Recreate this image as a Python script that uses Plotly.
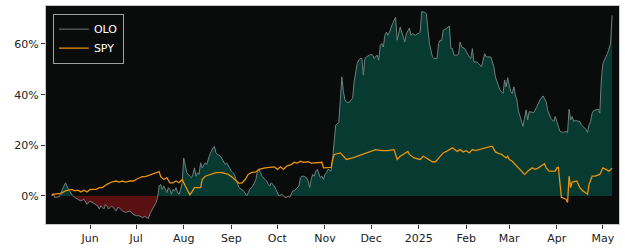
import numpy as np
import pandas as pd
import plotly.graph_objects as go

# ---------------- data (cumulative return, %) ----------------
olo_dates = [
    "2024-05-07", "2024-05-08", "2024-05-09", "2024-05-12", "2024-05-13", "2024-05-14", "2024-05-16",
    "2024-05-17", "2024-05-18", "2024-05-20", "2024-05-22", "2024-05-24", "2024-05-26", "2024-05-28",
    "2024-05-30", "2024-06-01", "2024-06-04", "2024-06-06", "2024-06-07", "2024-06-08", "2024-06-09",
    "2024-06-10", "2024-06-11", "2024-06-12", "2024-06-13", "2024-06-15", "2024-06-18", "2024-06-19",
    "2024-06-20", "2024-06-22", "2024-06-24", "2024-06-27", "2024-06-29", "2024-07-01", "2024-07-03",
    "2024-07-05", "2024-07-07", "2024-07-09", "2024-07-10", "2024-07-11", "2024-07-14", "2024-07-15",
    "2024-07-16", "2024-07-17", "2024-07-18", "2024-07-19", "2024-07-21", "2024-07-22", "2024-07-23",
    "2024-07-24", "2024-07-25", "2024-07-26", "2024-07-27", "2024-07-28", "2024-07-29", "2024-07-30",
    "2024-07-31", "2024-08-01", "2024-08-02", "2024-08-03", "2024-08-05", "2024-08-06", "2024-08-07",
    "2024-08-08", "2024-08-09", "2024-08-10", "2024-08-11", "2024-08-12", "2024-08-13", "2024-08-15",
    "2024-08-16", "2024-08-17", "2024-08-18", "2024-08-20", "2024-08-21", "2024-08-22", "2024-08-23",
    "2024-08-25", "2024-08-26", "2024-08-27", "2024-08-28", "2024-08-29", "2024-08-30", "2024-08-31",
    "2024-09-01", "2024-09-02", "2024-09-03", "2024-09-04", "2024-09-05", "2024-09-06", "2024-09-09",
    "2024-09-10", "2024-09-11", "2024-09-12", "2024-09-13", "2024-09-15", "2024-09-16", "2024-09-17",
    "2024-09-18", "2024-09-19", "2024-09-20", "2024-09-21", "2024-09-23", "2024-09-24", "2024-09-25",
    "2024-09-26", "2024-09-27", "2024-09-28", "2024-09-29", "2024-09-30", "2024-10-01", "2024-10-02",
    "2024-10-04", "2024-10-05", "2024-10-06", "2024-10-07", "2024-10-08", "2024-10-09", "2024-10-10",
    "2024-10-11", "2024-10-12", "2024-10-13", "2024-10-15", "2024-10-16", "2024-10-17", "2024-10-18",
    "2024-10-20", "2024-10-21", "2024-10-22", "2024-10-23", "2024-10-24", "2024-10-25", "2024-10-26",
    "2024-10-27", "2024-10-29", "2024-10-30", "2024-10-31", "2024-11-01", "2024-11-02", "2024-11-03",
    "2024-11-05", "2024-11-06", "2024-11-07", "2024-11-08", "2024-11-10", "2024-11-12", "2024-11-13",
    "2024-11-14", "2024-11-15", "2024-11-17", "2024-11-18", "2024-11-19", "2024-11-20", "2024-11-22",
    "2024-11-23", "2024-11-24", "2024-11-25", "2024-11-26", "2024-11-27", "2024-11-28", "2024-11-30",
    "2024-12-01", "2024-12-02", "2024-12-03", "2024-12-05", "2024-12-06", "2024-12-07", "2024-12-08",
    "2024-12-09", "2024-12-10", "2024-12-11", "2024-12-12", "2024-12-13", "2024-12-14", "2024-12-15",
    "2024-12-17", "2024-12-18", "2024-12-20", "2024-12-21", "2024-12-22", "2024-12-23", "2024-12-24",
    "2024-12-26", "2024-12-27", "2024-12-28", "2024-12-30", "2024-12-31", "2025-01-01", "2025-01-02",
    "2025-01-03", "2025-01-05", "2025-01-06", "2025-01-07", "2025-01-08", "2025-01-10", "2025-01-11",
    "2025-01-13", "2025-01-14", "2025-01-15", "2025-01-16", "2025-01-17", "2025-01-19", "2025-01-21",
    "2025-01-22", "2025-01-23", "2025-01-24", "2025-01-26", "2025-01-27", "2025-01-28", "2025-01-29",
    "2025-01-31", "2025-02-01", "2025-02-03", "2025-02-04", "2025-02-05", "2025-02-06", "2025-02-08",
    "2025-02-09", "2025-02-10", "2025-02-11", "2025-02-13", "2025-02-14", "2025-02-16", "2025-02-17",
    "2025-02-18", "2025-02-19", "2025-02-20", "2025-02-21", "2025-02-22", "2025-02-23", "2025-02-25",
    "2025-02-26", "2025-02-27", "2025-02-28", "2025-03-01", "2025-03-02", "2025-03-03", "2025-03-04",
    "2025-03-05", "2025-03-06", "2025-03-07", "2025-03-10", "2025-03-12", "2025-03-13", "2025-03-14",
    "2025-03-17", "2025-03-19", "2025-03-21", "2025-03-23", "2025-03-25", "2025-03-26", "2025-03-28",
    "2025-03-30", "2025-03-31", "2025-04-01", "2025-04-03", "2025-04-05", "2025-04-07", "2025-04-08",
    "2025-04-09", "2025-04-10", "2025-04-11", "2025-04-12", "2025-04-13", "2025-04-16", "2025-04-17",
    "2025-04-18", "2025-04-20", "2025-04-21", "2025-04-22", "2025-04-23", "2025-04-24", "2025-04-25",
    "2025-04-27", "2025-04-28", "2025-04-29", "2025-04-30", "2025-05-01", "2025-05-03", "2025-05-04",
    "2025-05-06", "2025-05-07",
]
olo_values = [
    0.0, 1.0, -0.6, -0.3, 1.3, 2.6, 5.2,
    3.9, 2.6, 0.7, -0.6, -1.3, -2.0, -1.3,
    -3.3, -2.0, -3.3, -3.9, -5.2, -3.9, -4.6,
    -5.2, -3.3, -3.9, -5.2, -3.9, -5.9, -4.6,
    -4.6, -5.9, -6.5, -5.9, -7.2, -7.8, -7.8,
    -8.5, -8.1, -8.9, -7.0, -5.9, -2.6, -0.6,
    3.9, 4.6, 2.6, 3.9, 1.3, 3.3, 2.6,
    0.7, 2.6, 2.0, 3.3, 1.3, 0.7, 2.6,
    5.2, 15.0, 11.8, 9.2, 7.8, 7.2, 8.5,
    11.1, 7.8, 9.2, 8.5, 13.1, 11.1, 13.1,
    12.4, 14.4, 16.4, 19.0, 19.6, 17.0, 16.4,
    15.7, 14.4, 13.1, 12.4, 13.1, 11.8, 11.1,
    9.8, 9.2, 8.5, 6.5, 4.6, 3.3, 2.0,
    0.7, 0.0, 1.3, 2.6, 3.9, 5.2, 6.5,
    9.8, 10.5, 9.2, 7.8, 6.5, 5.9, 4.6,
    3.9, 5.2, 4.6, 3.9, 2.6, 1.3, 0.0,
    0.7, 0.0, -0.6, -0.6, 0.0, -0.6, 0.7,
    2.0, 2.0, 2.6, 3.9, 7.2, 7.8, 7.8,
    7.2, 5.9, 3.3, 6.5, 8.5, 7.8, 9.8,
    10.5, 7.2, 7.8, 6.5, 8.5, 9.2, 10.5,
    9.8, 15.0, 23.0, 28.0, 29.0, 47.0, 41.2,
    37.9, 37.0, 37.0, 37.9, 38.6, 45.1, 52.3,
    53.6, 54.3, 54.3, 47.7, 54.3, 54.9, 55.6,
    55.9, 55.6, 54.3, 55.6, 53.6, 59.5, 60.2,
    58.8, 63.4, 64.7, 63.4, 64.7, 66.7, 68.0,
    70.6, 61.5, 66.7, 64.7, 62.8, 60.8, 64.1,
    66.3, 63.4, 64.1, 63.4, 64.1, 64.1, 64.7,
    72.8, 72.5, 72.0, 64.7, 60.2, 54.9, 54.3,
    54.3, 60.2, 61.5, 61.2, 65.4, 66.0, 67.1,
    58.2, 58.2, 55.6, 55.6, 55.9, 60.8, 58.8,
    58.2, 56.9, 54.9, 54.3, 58.2, 52.9, 52.9,
    52.3, 51.5, 51.0, 56.2, 54.9, 54.9, 54.9,
    52.9, 51.0, 47.0, 45.1, 43.8, 41.8, 40.5,
    45.8, 43.1, 46.7, 43.8, 41.2, 40.5, 43.1,
    39.9, 37.9, 33.5, 27.5, 34.0, 30.0, 33.3,
    32.9, 35.3, 37.9, 39.5, 37.3, 34.0, 30.7,
    29.4, 31.4, 29.4, 25.5, 25.1, 25.5, 24.9,
    34.3, 30.0, 31.4, 29.4, 29.8, 29.4, 28.0,
    27.5, 26.2, 25.1, 28.1, 29.4, 32.7, 33.7,
    34.3, 34.3, 32.7, 45.8, 52.3, 54.9, 56.2,
    60.2, 71.3,
]

spy_dates = [
    "2024-05-07", "2024-05-09", "2024-05-13", "2024-05-16", "2024-05-20", "2024-05-22", "2024-05-24",
    "2024-05-26", "2024-05-28", "2024-05-30", "2024-06-01", "2024-06-05", "2024-06-07", "2024-06-09",
    "2024-06-12", "2024-06-15", "2024-06-18", "2024-06-20", "2024-06-22", "2024-06-24", "2024-06-27",
    "2024-06-29", "2024-07-02", "2024-07-05", "2024-07-07", "2024-07-09", "2024-07-11", "2024-07-14",
    "2024-07-16", "2024-07-17", "2024-07-19", "2024-07-21", "2024-07-23", "2024-07-25", "2024-07-27",
    "2024-07-29", "2024-07-31", "2024-08-02", "2024-08-03", "2024-08-05", "2024-08-06", "2024-08-08",
    "2024-08-12", "2024-08-13", "2024-08-15", "2024-08-18", "2024-08-22", "2024-08-26", "2024-08-30",
    "2024-09-02", "2024-09-04", "2024-09-06", "2024-09-08", "2024-09-10", "2024-09-12", "2024-09-14",
    "2024-09-17", "2024-09-19", "2024-09-23", "2024-09-29", "2024-10-01", "2024-10-03", "2024-10-05",
    "2024-10-07", "2024-10-10", "2024-10-12", "2024-10-14", "2024-10-16", "2024-10-18", "2024-10-21",
    "2024-10-23", "2024-10-27", "2024-10-30", "2024-10-31", "2024-11-04", "2024-11-05", "2024-11-06",
    "2024-11-07", "2024-11-11", "2024-11-13", "2024-11-15", "2024-11-19", "2024-11-24", "2024-11-28",
    "2024-12-02", "2024-12-04", "2024-12-08", "2024-12-12", "2024-12-16", "2024-12-18", "2024-12-20",
    "2024-12-23", "2024-12-25", "2024-12-26", "2024-12-29", "2025-01-02", "2025-01-04", "2025-01-06",
    "2025-01-08", "2025-01-10", "2025-01-12", "2025-01-15", "2025-01-17", "2025-01-20", "2025-01-23",
    "2025-01-26", "2025-01-28", "2025-01-30", "2025-02-01", "2025-02-03", "2025-02-05", "2025-02-07",
    "2025-02-09", "2025-02-11", "2025-02-14", "2025-02-17", "2025-02-18", "2025-02-20", "2025-02-22",
    "2025-02-24", "2025-02-27", "2025-02-28", "2025-03-01", "2025-03-03", "2025-03-04", "2025-03-05",
    "2025-03-07", "2025-03-09", "2025-03-11", "2025-03-12", "2025-03-13", "2025-03-16", "2025-03-18",
    "2025-03-20", "2025-03-22", "2025-03-24", "2025-03-25", "2025-03-27", "2025-03-31", "2025-04-01",
    "2025-04-02", "2025-04-03", "2025-04-04", "2025-04-07", "2025-04-08", "2025-04-09", "2025-04-10",
    "2025-04-11", "2025-04-14", "2025-04-16", "2025-04-18", "2025-04-21", "2025-04-22", "2025-04-24",
    "2025-04-26", "2025-04-29", "2025-05-01", "2025-05-03", "2025-05-05", "2025-05-07",
]
spy_values = [
    0.3, 0.7, 1.0, 2.0, 2.6, 2.0, 2.3,
    1.6, 2.3, 1.6, 2.6, 2.6, 3.3, 3.3,
    4.6, 5.5, 5.9, 5.5, 5.9, 5.5, 5.9,
    5.9, 6.8, 7.6, 7.6, 8.1, 8.5, 9.2,
    9.6, 7.6, 6.5, 7.2, 5.2, 5.2, 5.9,
    5.2, 6.5, 3.9, 2.6, 0.5, 1.3, 3.3,
    3.3, 6.5, 7.8, 8.5, 9.2, 9.2, 8.5,
    7.2, 5.9, 5.0, 5.2, 6.5, 8.5, 9.2,
    9.5, 10.5, 11.1, 11.5, 10.5, 11.5, 10.5,
    11.8, 12.4, 13.3, 13.0, 13.7, 13.3, 13.5,
    13.0, 13.0, 13.3, 11.1, 11.1, 11.3, 14.4,
    16.4, 17.0, 15.7, 14.4, 15.0, 16.0, 17.0,
    17.6, 18.3, 17.9, 17.9, 18.3, 14.4, 15.7,
    17.0, 17.6, 16.4, 15.0, 14.4, 15.7, 15.0,
    14.4, 13.5, 13.5, 15.5, 17.0, 17.9, 19.0,
    17.6, 18.3, 17.4, 17.9, 17.0, 18.3, 17.9,
    18.3, 18.6, 19.2, 19.6, 19.6, 17.4, 16.8,
    16.4, 15.0, 15.7, 14.4, 13.7, 13.0, 12.4,
    11.1, 9.8, 8.5, 9.0, 9.8, 11.1, 10.5,
    11.1, 11.8, 12.7, 11.1, 9.8, 9.8, 11.1,
    11.3, 5.9, -0.6, -1.3, -2.6, 7.8, 3.3,
    5.5, 5.9, 3.3, 2.0, 0.7, 4.6, 7.8,
    7.8, 8.5, 11.1, 10.5, 9.8, 11.0,
]

x_tick_dates = ["2024-06-01", "2024-07-01", "2024-08-01", "2024-09-01", "2024-10-01", "2024-11-01",
                "2024-12-01", "2025-01-01", "2025-02-01", "2025-03-01", "2025-04-01", "2025-05-01"]
x_tick_labels = ["Jun", "Jul", "Aug", "Sep", "Oct", "Nov", "Dec", "2025", "Feb", "Mar", "Apr", "May"]
y_tick_values = [0, 20, 40, 60]
y_tick_labels = ["0%", "20%", "40%", "60%"]


# -------- split OLO into positive / negative parts (with zero crossings) --------
def split_sign(dates, vals):
    t = pd.to_datetime(pd.Series(dates)).astype("int64").to_numpy().astype(float)
    v = np.asarray(vals, dtype=float)
    xs, ys = [t[0]], [v[0]]
    for i in range(1, len(v)):
        if (v[i - 1] > 0 > v[i]) or (v[i - 1] < 0 < v[i]):
            tc = t[i - 1] + (t[i] - t[i - 1]) * (v[i - 1] / (v[i - 1] - v[i]))
            xs.append(tc)
            ys.append(0.0)
        xs.append(t[i])
        ys.append(v[i])
    xd = pd.to_datetime(np.array(xs).astype("int64"))
    ys = np.array(ys)
    return xd, np.maximum(ys, 0), np.minimum(ys, 0)


xd, pos, neg = split_sign(olo_dates, olo_values)

GREEN_FILL = "#073a30"
RED_FILL = "#5a1010"
OLO_LINE = "#6f7f7b"
SPY_LINE = "#e8920e"

fig = go.Figure()
fig.add_trace(go.Scatter(x=xd, y=pos, mode="lines", line=dict(width=0), fill="tozeroy",
                         fillcolor=GREEN_FILL, showlegend=False, hoverinfo="skip"))
fig.add_trace(go.Scatter(x=xd, y=neg, mode="lines", line=dict(width=0), fill="tozeroy",
                         fillcolor=RED_FILL, showlegend=False, hoverinfo="skip"))
fig.add_trace(go.Scatter(x=pd.to_datetime(olo_dates), y=olo_values, mode="lines", name="OLO",
                         line=dict(color=OLO_LINE, width=1)))
fig.add_trace(go.Scatter(x=pd.to_datetime(spy_dates), y=spy_values, mode="lines", name="SPY",
                         line=dict(color=SPY_LINE, width=1.3)))

font_fam = "DejaVu Sans, sans-serif"
fig.update_layout(
    width=625, height=250,
    margin=dict(l=46, r=6, t=5, b=25),
    paper_bgcolor="white",
    plot_bgcolor="#0a0b0b",
    font=dict(family=font_fam, size=11, color="#222222"),
    showlegend=True,
    legend=dict(x=0.012, y=0.965, xanchor="left", yanchor="top",
                bgcolor="rgba(10,11,11,0.9)", bordercolor="#a0a0a0", borderwidth=1,
                font=dict(family=font_fam, size=11, color="white"),
                itemwidth=30, tracegroupgap=0),
)
fig.update_xaxes(
    range=["2024-05-03 07:00", "2025-05-11 12:00"],
    tickmode="array", tickvals=x_tick_dates, ticktext=x_tick_labels,
    ticks="outside", ticklen=4, tickcolor="#333333", tickwidth=1,
    showgrid=False, zeroline=False,
    showline=True, linecolor="#c8c8c8", linewidth=1, mirror=True,
    tickfont=dict(size=11, color="#222222"),
)
fig.update_yaxes(
    range=[-11.07, 75.0],
    tickmode="array", tickvals=y_tick_values, ticktext=y_tick_labels,
    ticks="outside", ticklen=4, tickcolor="#333333", tickwidth=1,
    showgrid=False, zeroline=False,
    showline=True, linecolor="#c8c8c8", linewidth=1, mirror=True,
    tickfont=dict(size=11, color="#222222"),
)

fig.write_html("out.html")
